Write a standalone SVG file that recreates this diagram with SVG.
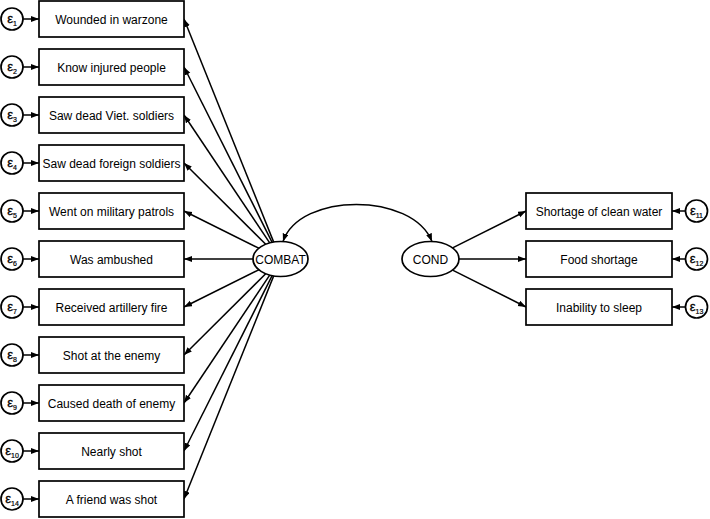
<svg xmlns="http://www.w3.org/2000/svg" width="710" height="519" viewBox="0 0 710 519">
<style>
.box{fill:#fff;stroke:#000;stroke-width:1.7}
.err{fill:#fff;stroke:#000;stroke-width:1.7}
.lat{fill:#fff;stroke:#000;stroke-width:1.7}
.lbl{font-family:"Liberation Sans",Arial,sans-serif;font-size:12px;fill:#000;text-anchor:middle}
.eps{font-family:"Liberation Sans",Arial,sans-serif;font-size:13px;fill:#000;text-anchor:middle;stroke:#000;stroke-width:0.3}
.sub{font-size:7px;stroke-width:0.2}
.con{fill:none;stroke:#000;stroke-width:1.5;marker-end:url(#ah)}
.cov{fill:none;stroke:#000;stroke-width:1.5;marker-start:url(#ah);marker-end:url(#ah)}
</style>
<defs>
<marker id="ah" markerUnits="userSpaceOnUse" markerWidth="9" markerHeight="7" refX="8" refY="3" orient="auto-start-reverse">
<path d="M0,0 L8,3 L0,6 z" fill="#000"/>
</marker>
</defs>
<rect width="710" height="519" fill="#fff"/>
<g id="connectors">
<line class="con" x1="273.7" y1="242.1" x2="184" y2="19"/>
<line class="con" x1="272.1" y1="242.3" x2="184" y2="67"/>
<line class="con" x1="269.7" y1="242.9" x2="184" y2="115"/>
<line class="con" x1="265.7" y1="244.3" x2="184" y2="163"/>
<line class="con" x1="258.8" y1="248.2" x2="184" y2="211"/>
<line class="con" x1="253" y1="259" x2="184" y2="259"/>
<line class="con" x1="258.8" y1="269.8" x2="184" y2="307"/>
<line class="con" x1="265.7" y1="273.7" x2="184" y2="355"/>
<line class="con" x1="269.7" y1="275.1" x2="184" y2="403"/>
<line class="con" x1="272.1" y1="275.7" x2="184" y2="451"/>
<line class="con" x1="273.7" y1="275.9" x2="184" y2="499"/>
<line class="con" x1="452.6" y1="247.9" x2="526" y2="211"/>
<line class="con" x1="459" y1="259" x2="526" y2="259"/>
<line class="con" x1="452.6" y1="270.1" x2="526" y2="307"/>
<line class="con" x1="23" y1="19" x2="39" y2="19"/>
<line class="con" x1="23" y1="67" x2="39" y2="67"/>
<line class="con" x1="23" y1="115" x2="39" y2="115"/>
<line class="con" x1="23" y1="163" x2="39" y2="163"/>
<line class="con" x1="23" y1="211" x2="39" y2="211"/>
<line class="con" x1="23" y1="259" x2="39" y2="259"/>
<line class="con" x1="23" y1="307" x2="39" y2="307"/>
<line class="con" x1="23" y1="355" x2="39" y2="355"/>
<line class="con" x1="23" y1="403" x2="39" y2="403"/>
<line class="con" x1="23" y1="451" x2="39" y2="451"/>
<line class="con" x1="23" y1="499" x2="39" y2="499"/>
<line class="con" x1="685" y1="211" x2="672" y2="211"/>
<line class="con" x1="685" y1="259" x2="672" y2="259"/>
<line class="con" x1="685" y1="307" x2="672" y2="307"/>
<path class="cov" d="M283,241.5 C300,192 412,192 432,241.5"/>
</g>
<g id="COMBAT"><ellipse class="lat" cx="280.5" cy="259" rx="27.5" ry="17.5"/><text class="lbl" x="280.5" y="263.5">COMBAT</text></g>
<g id="COND"><ellipse class="lat" cx="430.5" cy="259" rx="28.5" ry="17.5"/><text class="lbl" x="430.5" y="263.5">COND</text></g>
<g id="x1"><rect class="box" x="39" y="1" width="145" height="36"/><text class="lbl" x="111.5" y="23.5">Wounded in warzone</text></g>
<g id="x2"><rect class="box" x="39" y="49" width="145" height="36"/><text class="lbl" x="111.5" y="71.5">Know injured people</text></g>
<g id="x3"><rect class="box" x="39" y="97" width="145" height="36"/><text class="lbl" x="111.5" y="119.5">Saw dead Viet. soldiers</text></g>
<g id="x4"><rect class="box" x="39" y="145" width="145" height="36"/><text class="lbl" x="111.5" y="167.5">Saw dead foreign soldiers</text></g>
<g id="x5"><rect class="box" x="39" y="193" width="145" height="36"/><text class="lbl" x="111.5" y="215.5">Went on military patrols</text></g>
<g id="x6"><rect class="box" x="39" y="241" width="145" height="36"/><text class="lbl" x="111.5" y="263.5">Was ambushed</text></g>
<g id="x7"><rect class="box" x="39" y="289" width="145" height="36"/><text class="lbl" x="111.5" y="311.5">Received artillery fire</text></g>
<g id="x8"><rect class="box" x="39" y="337" width="145" height="36"/><text class="lbl" x="111.5" y="359.5">Shot at the enemy</text></g>
<g id="x9"><rect class="box" x="39" y="385" width="145" height="36"/><text class="lbl" x="111.5" y="407.5">Caused death of enemy</text></g>
<g id="x10"><rect class="box" x="39" y="433" width="145" height="36"/><text class="lbl" x="111.5" y="455.5">Nearly shot</text></g>
<g id="x14"><rect class="box" x="39" y="481" width="145" height="36"/><text class="lbl" x="111.5" y="503.5">A friend was shot</text></g>
<g id="x11"><rect class="box" x="526" y="193" width="146" height="36"/><text class="lbl" x="599" y="215.5">Shortage of clean water</text></g>
<g id="x12"><rect class="box" x="526" y="241" width="146" height="36"/><text class="lbl" x="599" y="263.5">Food shortage</text></g>
<g id="x13"><rect class="box" x="526" y="289" width="146" height="36"/><text class="lbl" x="599" y="311.5">Inability to sleep</text></g>
<g id="e1"><circle class="err" cx="12" cy="19" r="11"/><text class="eps" x="12" y="22.5">ε<tspan class="sub" dy="3">1</tspan></text></g>
<g id="e2"><circle class="err" cx="12" cy="67" r="11"/><text class="eps" x="12" y="70.5">ε<tspan class="sub" dy="3">2</tspan></text></g>
<g id="e3"><circle class="err" cx="12" cy="115" r="11"/><text class="eps" x="12" y="118.5">ε<tspan class="sub" dy="3">3</tspan></text></g>
<g id="e4"><circle class="err" cx="12" cy="163" r="11"/><text class="eps" x="12" y="166.5">ε<tspan class="sub" dy="3">4</tspan></text></g>
<g id="e5"><circle class="err" cx="12" cy="211" r="11"/><text class="eps" x="12" y="214.5">ε<tspan class="sub" dy="3">5</tspan></text></g>
<g id="e6"><circle class="err" cx="12" cy="259" r="11"/><text class="eps" x="12" y="262.5">ε<tspan class="sub" dy="3">6</tspan></text></g>
<g id="e7"><circle class="err" cx="12" cy="307" r="11"/><text class="eps" x="12" y="310.5">ε<tspan class="sub" dy="3">7</tspan></text></g>
<g id="e8"><circle class="err" cx="12" cy="355" r="11"/><text class="eps" x="12" y="358.5">ε<tspan class="sub" dy="3">8</tspan></text></g>
<g id="e9"><circle class="err" cx="12" cy="403" r="11"/><text class="eps" x="12" y="406.5">ε<tspan class="sub" dy="3">9</tspan></text></g>
<g id="e10"><circle class="err" cx="12" cy="451" r="11"/><text class="eps" x="12" y="454.5">ε<tspan class="sub" dy="3">10</tspan></text></g>
<g id="e14"><circle class="err" cx="12" cy="499" r="11"/><text class="eps" x="12" y="502.5">ε<tspan class="sub" dy="3">14</tspan></text></g>
<g id="e11"><circle class="err" cx="696.5" cy="211" r="11"/><text class="eps" x="696.5" y="214.5">ε<tspan class="sub" dy="3">11</tspan></text></g>
<g id="e12"><circle class="err" cx="696.5" cy="259" r="11"/><text class="eps" x="696.5" y="262.5">ε<tspan class="sub" dy="3">12</tspan></text></g>
<g id="e13"><circle class="err" cx="696.5" cy="307" r="11"/><text class="eps" x="696.5" y="310.5">ε<tspan class="sub" dy="3">13</tspan></text></g>
</svg>
